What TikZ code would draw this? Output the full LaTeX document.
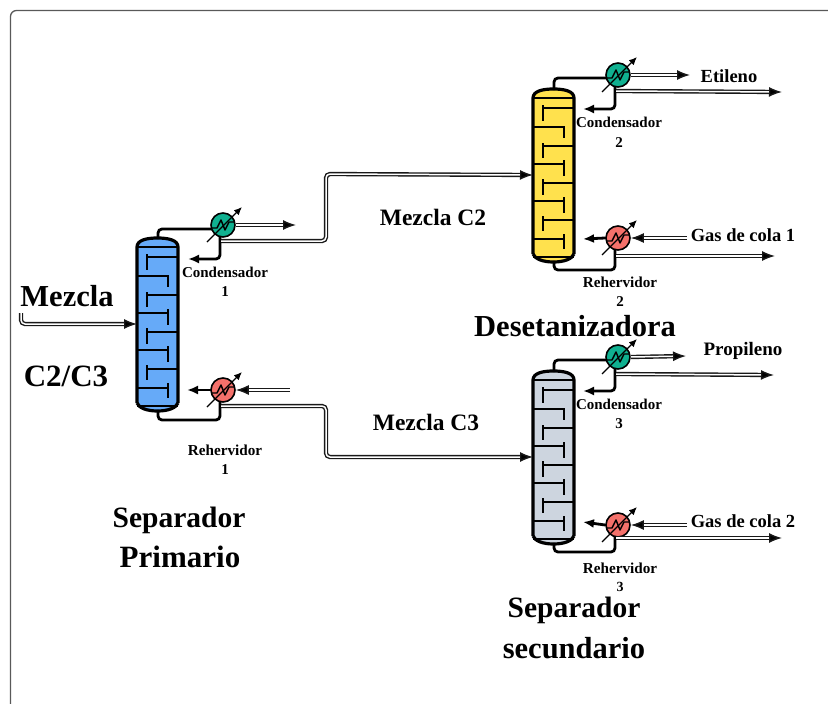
\documentclass[tikz,border=0pt]{standalone}
\usepackage{fontspec}
\setmainfont{Liberation Serif}
\usetikzlibrary{arrows.meta}
\tikzset{
  x=1pt,y=-1pt,
  pipe/.style={line width=2.8pt,rounded corners=4pt,line cap=round},
  pipearrow/.style={pipe,-{Latex[length=11pt,width=9pt]}},
  dpipe/.style={draw=black!90,line width=1.4pt,double=white,double distance=1.5pt,rounded corners=4pt},
  dpipearrow/.style={dpipe,-{Latex[length=13pt,width=10pt,fill=black]}},
  exch/.style={circle,draw=black,line width=1.6pt,minimum size=24pt,inner sep=0pt,fill=#1},
  ctl/.style={line width=1.4pt,-{Latex[length=8pt,width=7pt]}},
  lbl/.style={inner sep=0pt,font=\bfseries\fontsize{#1}{#1}\selectfont,text=black},
  wall/.style={line width=2.8pt},
  tray/.style={line width=2.8pt},
  column/.pic={
    \path[fill=#1] (0,9) .. controls (0,2) and (10,0) .. (20.5,0) .. controls (31,0) and (41,2) .. (41,9)
      -- (41,165) .. controls (41,170) and (31,173) .. (20.5,173) .. controls (10,173) and (0,170) .. (0,165) -- cycle;
    \draw[line width=3.2pt] (0,165) -- (0,9) .. controls (0,2) and (10,0) .. (20.5,0) .. controls (31,0) and (41,2) .. (41,9) -- (41,165);
    \draw[line width=3.2pt] (0,165) .. controls (2,170) and (10,173) .. (20.5,173) .. controls (31,173) and (39,170) .. (41,165);
    \draw[wall] (0,9) -- (41,9) (0,168) -- (41,168);
    \draw[tray] (41,19) -- (10,19) (10,16) -- (10,32);
    \draw[tray] (0,38) -- (31,38) (31,37) -- (31,49);
    \draw[tray] (41,57) -- (10,57) (10,54) -- (10,69);
    \draw[tray] (0,75) -- (31,75) (31,71) -- (31,87);
    \draw[tray] (41,94) -- (10,94) (10,90) -- (10,106);
    \draw[tray] (0,112) -- (31,112) (31,108) -- (31,124);
    \draw[tray] (41,131) -- (10,131) (10,127) -- (10,142);
    \draw[tray] (0,150) -- (31,150) (31,145) -- (31,160);
    \coordinate (-top) at (21,0);
    \coordinate (-bot) at (21,173);
    \coordinate (-feed) at (0,86);
  },
  hx/.pic={
    \node[exch=#1] (-c) at (0,0) {};
    \draw[line width=1.4pt,line join=round] (-11,3) -- (-6,3) -- (-2,-5) -- (2,5) -- (6,-3) -- (11,-3);
    \draw[ctl] (-16,17) -- (19,-18);
  },
}
\begin{document}
\begin{tikzpicture}
\useasboundingbox (0,0) rectangle (828,704);
\definecolor{cblue}{HTML}{66AAF8}
\definecolor{cyellow}{HTML}{FFE14D}
\definecolor{cgray}{HTML}{CDD5DF}
\definecolor{cgreen}{HTML}{10B090}
\definecolor{cred}{HTML}{F4716B}
% frame
\draw[black!65,line width=1.3pt,rounded corners=6pt] (10.5,720) -- (10.5,10.5) -- (840,10.5);
% columns
\pic (A) at (137,238) {column=cblue};
\pic (B) at (533,89) {column=cyellow};
\pic (D) at (533,371) {column=cgray};
% pipes first, exchangers drawn on top
\coordinate (a1) at (220,229);
\coordinate (a2) at (188,259);
\coordinate (a3) at (187,390);
\coordinate (b2) at (583,109);
\coordinate (b3) at (583,239);
\coordinate (d2) at (583,391);
\coordinate (d3) at (583,522);
\draw[pipe] (A-top) |- (a1);
\draw[pipearrow] (220,232) |- (a2);
\draw[pipe] (A-bot) -- (158,420) -- (220,420) -- (220,392);
\draw[pipe] (B-top) |- (612,78);
\draw[pipearrow] (615,82) |- (b2);
\draw[pipe] (B-bot) -- (554,270) -- (615,270) -- (615,242);
\draw[pipe] (D-top) |- (612,360);
\draw[pipearrow] (615,364) |- (d2);
\draw[pipe] (D-bot) -- (554,552) -- (615,552) -- (615,528);
% exchangers
\pic (HA) at (223,225) {hx=cgreen};
\pic (RA) at (223,390) {hx=cred};
\pic (HB) at (618,75) {hx=cgreen};
\pic (RB) at (618,238) {hx=cred};
\pic (HD) at (618,357) {hx=cgreen};
\pic (RD) at (618,525) {hx=cred};
\draw[pipearrow] (RA-c.west) -- (a3);
\draw[pipearrow] (RB-c.west) -- (b3);
\draw[pipearrow] (RD-c.west) -- (d3);
% double lines
\coordinate (feedstart) at (21,313);
\draw[dpipearrow] (feedstart) -- (21,324) -- (A-feed);
\coordinate (ao) at (296,225);
\draw[dpipearrow] (HA-c.east) -- (ao);
\coordinate (ra) at (290,390);
\draw[dpipearrow] (ra) -- (RA-c.east);
\draw[dpipearrow] (221,241) -- (326,241) -- (326,174) -- (B-feed);
\draw[dpipearrow] (221,406) -- (326,406) -- (326,457) -- (D-feed);
\coordinate (bo) at (690,75);
\draw[dpipearrow] (HB-c.east) -- (bo);
\coordinate (bo2) at (782,92);
\draw[dpipearrow] (616,91) -- (bo2);
\coordinate (rb) at (687,238);
\draw[dpipearrow] (rb) -- (RB-c.east);
\coordinate (rb2) at (775,256);
\draw[dpipearrow] (616,256) -- (rb2);
\coordinate (do) at (686,356);
\draw[dpipearrow] (HD-c.east) -- (do);
\coordinate (do2) at (774,375);
\draw[dpipearrow] (616,374) -- (do2);
\coordinate (rd) at (687,525);
\draw[dpipearrow] (rd) -- (RD-c.east);
\coordinate (rd2) at (782,538);
\draw[dpipearrow] (616,538) -- (rd2);
% labels
\node[lbl=30.5] (t1) at (67,296) {Mezcla};
\node[lbl=31] (t2) at (66,376) {C2/C3};
\node[lbl=15] (t3) at (225,272) {Condensador};
\node[lbl=15] (t4) at (225,292) {1};
\node[lbl=15.2] (t5) at (225,450) {Rehervidor};
\node[lbl=15] (t6) at (225,470) {1};
\node[lbl=29.5] (t7) at (179,520) {Separador};
\node[lbl=31] (t8) at (180,557) {Primario};
\node[lbl=23.5] (t9) at (433,217) {Mezcla C2};
\node[lbl=23.5] (t10) at (426,422) {Mezcla C3};
\node[lbl=15] (t11) at (619,122) {Condensador};
\node[lbl=15] (t12) at (619,143) {2};
\node[lbl=15.2] (t13) at (620,282) {Rehervidor};
\node[lbl=15] (t14) at (620,302) {2};
\node[lbl=18.5] (t15) at (729,76) {Etileno};
\node[lbl=18.5] (t16) at (743,235) {Gas de cola 1};
\node[lbl=30.5] (t17) at (575,326) {Desetanizadora};
\node[lbl=19] (t18) at (743,351) {Propileno};
\node[lbl=15] (t19) at (619,404) {Condensador};
\node[lbl=15] (t20) at (619,424) {3};
\node[lbl=18.5] (t21) at (743,521) {Gas de cola 2};
\node[lbl=15.2] (t22) at (620,568) {Rehervidor};
\node[lbl=14] (t23) at (620,587) {3};
\node[lbl=29.5] (t24) at (574,610) {Separador};
\node[lbl=30.5] (t25) at (574,648) {secundario};
\end{tikzpicture}
\end{document}
